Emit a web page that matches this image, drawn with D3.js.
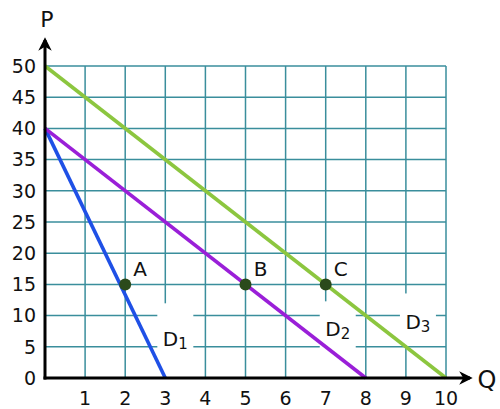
<!DOCTYPE html>
<html>
<head>
<meta charset="utf-8">
<script src="https://cdn.jsdelivr.net/npm/d3@7"></script>
<style>
  body { margin: 0; background: #fff; }
  svg text { font-family: "DejaVu Sans", Verdana, sans-serif; fill: #111; }
</style>
</head>
<body>
<script>
// demand curves, endpoints in (Q, P)
var curveNames = ["D1", "D2", "D3"];
var curveColors = ["#1f50e6", "#9a1fd8", "#8cc63f"];
var curveStart = [[0, 40], [0, 40], [0, 50]];
var curveEnd = [[3, 0], [8, 0], [10, 0]];

// marked points
var pointNames = ["A", "B", "C"];
var pointQ = [2, 5, 7];
var pointP = [15, 15, 15];

// curve label anchors (Q, P)
var labelQ = [3.25, 7.3, 9.3];
var labelP = [6.2, 7.8, 8.9];

var xTicks = [1, 2, 3, 4, 5, 6, 7, 8, 9, 10];
var yTicks = [0, 5, 10, 15, 20, 25, 30, 35, 40, 45, 50];

var W = 500, H = 409;
var svg = d3.select("body").append("svg").attr("width", W).attr("height", H);

var x = d3.scaleLinear().domain([0, 10]).range([45, 446]);
var y = d3.scaleLinear().domain([0, 50]).range([378, 66]);

var grid = svg.append("g").attr("stroke", "#3a8e9c").attr("stroke-width", 1.5);
grid.selectAll("line.v").data(xTicks).enter().append("line")
	.attr("x1", function(d) { return x(d); }).attr("x2", function(d) { return x(d); })
	.attr("y1", y(0)).attr("y2", y(50));
grid.selectAll("line.h").data(yTicks.filter(function(d) { return d > 0; })).enter().append("line")
	.attr("x1", x(0)).attr("x2", x(10))
	.attr("y1", function(d) { return y(d); }).attr("y2", function(d) { return y(d); });

// white boxes behind curve labels (grid is cut there in the original)
var boxTop = [-36, -28, -29], boxBottom = [38, 48, 23];
svg.selectAll("rect.lblbg").data(curveNames).enter().append("rect")
	.attr("fill", "#fff")
	.attr("x", function(d, i) { return x(labelQ[i]) - 18; })
	.attr("width", 36)
	.attr("y", function(d, i) { return y(labelP[i]) + boxTop[i]; })
	.attr("height", function(d, i) { return boxBottom[i] - boxTop[i]; });

// curves
svg.selectAll("line.curve").data(curveNames).enter().append("line")
	.attr("stroke", function(d, i) { return curveColors[i]; })
	.attr("stroke-width", 3.6)
	.attr("x1", function(d, i) { return x(curveStart[i][0]); })
	.attr("y1", function(d, i) { return y(curveStart[i][1]); })
	.attr("x2", function(d, i) { return x(curveEnd[i][0]); })
	.attr("y2", function(d, i) { return y(curveEnd[i][1]); });

// axes with arrows
svg.append("defs").append("marker").attr("id", "arr")
	.attr("viewBox", "0 0 10 10").attr("refX", 8).attr("refY", 5)
	.attr("markerWidth", 4.5).attr("markerHeight", 4.5).attr("markerUnits", "strokeWidth")
	.attr("orient", "auto")
	.append("path").attr("d", "M0,0 L10,5 L0,10 L3,5 Z").attr("fill", "#000");

svg.append("line").attr("x1", x(0)).attr("y1", y(0) + 1.5).attr("x2", x(0)).attr("y2", 40)
	.attr("stroke", "#000").attr("stroke-width", 3).attr("marker-end", "url(#arr)");
svg.append("line").attr("x1", x(0) - 1.5).attr("y1", y(0)).attr("x2", 470).attr("y2", y(0))
	.attr("stroke", "#000").attr("stroke-width", 3).attr("marker-end", "url(#arr)");

svg.append("text").attr("x", x(0) + 2).attr("y", 27).attr("text-anchor", "middle")
	.attr("font-size", 22).text("P");
svg.append("text").attr("x", 487).attr("y", y(0) + 10).attr("text-anchor", "middle")
	.attr("font-size", 24).text("Q");

// tick labels
svg.selectAll("text.yt").data(yTicks).enter().append("text")
	.attr("x", 36).attr("y", function(d) { return y(d); }).attr("dy", "0.36em")
	.attr("text-anchor", "end").attr("font-size", 19)
	.text(function(d) { return d; });
svg.selectAll("text.xt").data(xTicks).enter().append("text")
	.attr("x", function(d) { return x(d); }).attr("y", 405)
	.attr("text-anchor", "middle").attr("font-size", 19)
	.text(function(d) { return d; });

// points
svg.selectAll("circle").data(pointNames).enter().append("circle")
	.attr("cx", function(d, i) { return x(pointQ[i]); })
	.attr("cy", function(d, i) { return y(pointP[i]); })
	.attr("r", 6).attr("fill", "#2b4a1c");
svg.selectAll("text.pt").data(pointNames).enter().append("text")
	.attr("x", function(d, i) { return x(pointQ[i]) + 15; })
	.attr("y", function(d, i) { return y(pointP[i]) - 8; })
	.attr("text-anchor", "middle").attr("font-size", 20)
	.text(function(d) { return d; });

// curve labels with subscripts
var cl = svg.selectAll("text.cl").data(curveNames).enter().append("text")
	.attr("x", function(d, i) { return x(labelQ[i]); })
	.attr("y", function(d, i) { return y(labelP[i]) + 7; })
	.attr("text-anchor", "middle").attr("font-size", 20);
cl.append("tspan").text("D");
cl.append("tspan").attr("font-size", 15).attr("dy", 3).text(function(d) { return d.slice(1); });
</script>
</body>
</html>
